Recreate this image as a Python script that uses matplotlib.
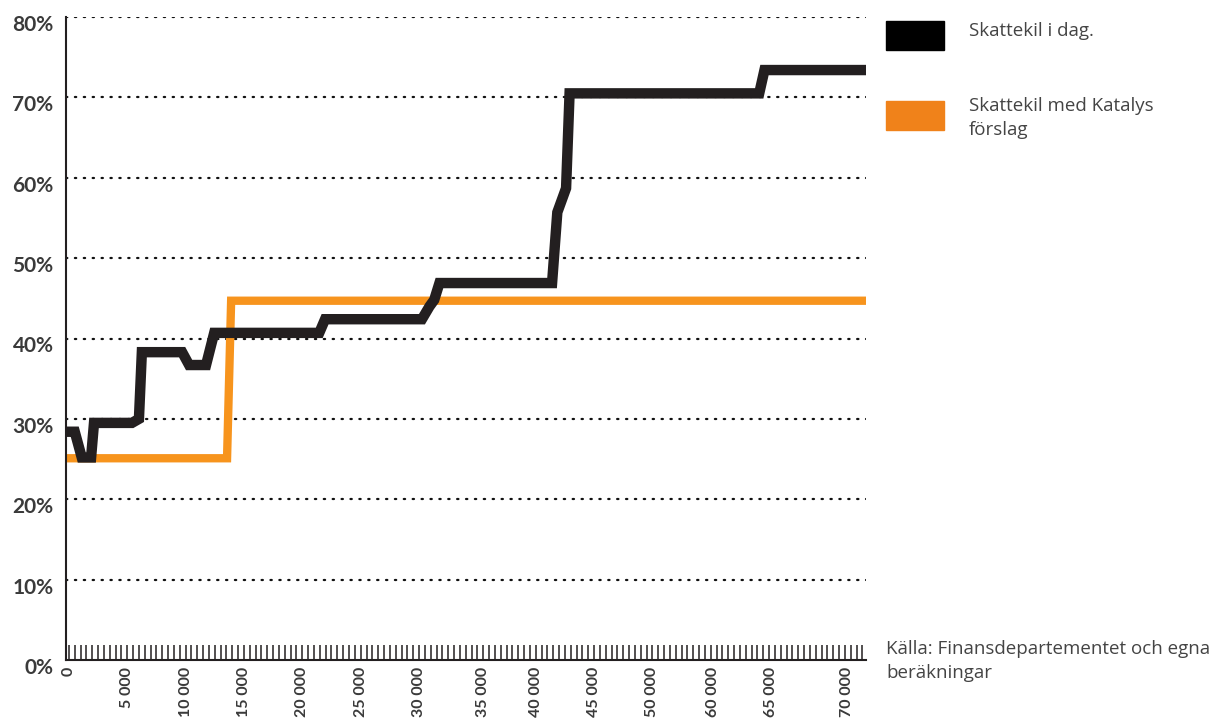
import numpy as np
import matplotlib
matplotlib.use("Agg")
import matplotlib.pyplot as plt
import matplotlib.transforms as mtransforms
from matplotlib.patches import Rectangle

# skattekil i procent vid olika månadslöner (kr)
lon_idag = [0, 500, 1100, 1900, 2150, 5400, 6000, 6250, 9700, 10300, 11750, 12450,
            21450, 21950, 30250, 30900, 31300, 31750, 41400, 41850, 42600, 42900,
            59150, 59600, 68300]
kil_idag = [28.4, 28.4, 25.2, 25.2, 29.5, 29.5, 30.0, 38.3, 38.3, 36.7, 36.7, 40.7,
            40.7, 42.4, 42.4, 44.0, 44.8, 46.9, 46.9, 55.7, 58.7, 70.5,
            70.5, 73.4, 73.4]
lon_katalys = [0, 13550, 13900, 68300]
kil_katalys = [25.1, 25.1, 44.7, 44.7]

# etiketter på x-axeln (som i originalet)
xlabels = ["0", "5 000", "10 000", "15 000", "20 000", "25 000", "30 000", "35 000",
           "40 000", "45 000", "50 000", "60 000", "65 000", "70 000"]
xlabel_pos = [0, 5000, 10000, 15000, 20000, 25000, 30000, 35500, 40000, 45000,
              50000, 55200, 60200, 66700]
ylevels = [0, 10, 20, 30, 40, 50, 60, 70, 80]

BLACK = "#231f20"
ORANGE = "#f7941d"
ORANGE_LEG = "#f0821a"
TXT = "#3a3a3a"

fig = plt.figure(figsize=(12.1, 7.22), dpi=100)
ax = fig.add_axes([66/1210, 62/722, 800/1210, 643/722])

for y in ylevels[1:]:
    ax.axhline(y, color="#111111", lw=1.6, ls=(0, (0.6, 3.4)), dash_capstyle="round", zorder=1)

ax.plot(lon_katalys, kil_katalys, color=ORANGE, lw=6, solid_joinstyle="miter", zorder=2)
ax.plot(lon_idag, kil_idag, color=BLACK, lw=7.5, solid_joinstyle="miter", zorder=3)

ax.set_xlim(-250, 68300)
ax.set_ylim(0, 80)
for s in ["top", "right"]:
    ax.spines[s].set_visible(False)
for s in ["left", "bottom"]:
    ax.spines[s].set_color(BLACK)
    ax.spines[s].set_linewidth(1.5)

ax.set_yticks(ylevels)
ax.set_yticklabels([f"{v}%" for v in ylevels], fontsize=15, fontweight="bold", color=TXT,
                   family="Lato")
ax.tick_params(axis="y", length=0, pad=9)
off = mtransforms.ScaledTranslation(0, -6/100, fig.dpi_scale_trans)
for lab in ax.get_yticklabels():
    lab.set_transform(lab.get_transform() + off)

# små streck var 500:e krona (major), etiketter som minor
ax.xaxis.remove_overlapping_locs = False
ax.set_xticks(np.arange(0, 68001, 500))
ax.set_xticklabels([])
ax.tick_params(axis="x", which="major", direction="in", length=11, width=1.1, color=BLACK)
ax.set_xticks(xlabel_pos, minor=True)
ax.set_xticklabels(xlabels, minor=True, rotation=90, fontsize=11.5, fontweight="bold",
                   color=TXT, family="Lato", va="top", ha="center")
ax.tick_params(axis="x", which="minor", length=0, pad=5)

# förklaring
fig.patches.append(Rectangle((886/1210, 1 - 50/722), 58/1210, 29/722,
                             transform=fig.transFigure, color="black"))
fig.patches.append(Rectangle((886/1210, 1 - 130/722), 58/1210, 29/722,
                             transform=fig.transFigure, color=ORANGE_LEG))
tkw = dict(fontsize=13.5, color="#444444", ha="left", family="Open Sans",
           linespacing=1.4)
fig.text(969/1210, 1 - 31/722, "Skattekil i dag.", va="center", **tkw)
fig.text(969/1210, 1 - 97/722, "Skattekil med Katalys\nförslag", va="top", **tkw)
fig.text(886/1210, 1 - 640/722, "Källa: Finansdepartementet och egna\nberäkningar",
         va="top", **tkw)

fig.savefig("out.png", dpi=100)
